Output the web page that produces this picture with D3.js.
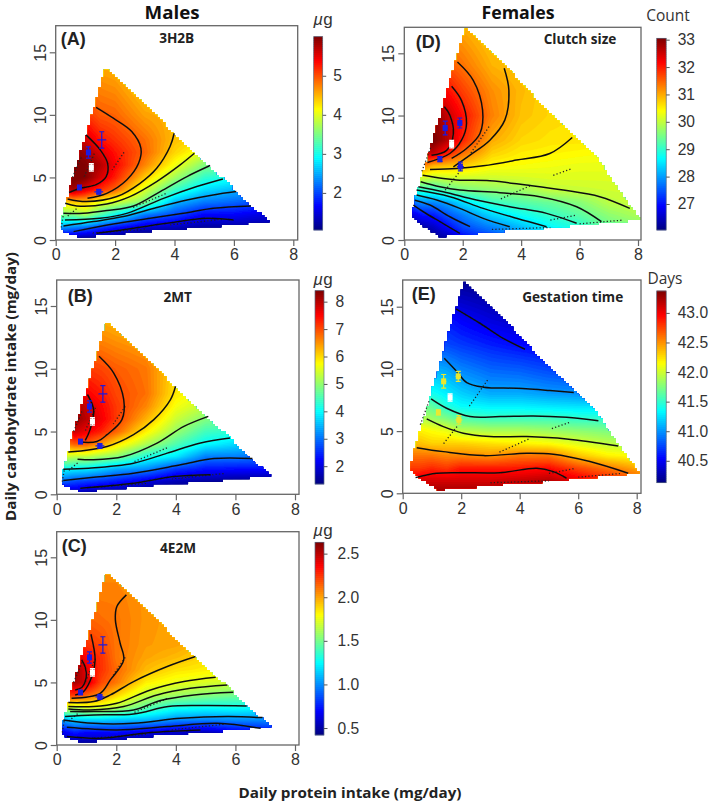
<!DOCTYPE html>
<html><head><meta charset="utf-8">
<script src="https://cdn.jsdelivr.net/npm/d3@7"></script>
<style>html,body{margin:0;background:#fff}svg{display:block}</style></head>
<body><svg id="c" width="709" height="804"></svg>
<script>
// ---------- data ----------
const xTicks=[0,2,4,6,8], yTicks=[0,5,10,15];
const proteinGrid=[0.2,0.6,1,1.5,2,3,4,5,6,7,8.2];
const carbGrid=[0,1,2,3,4,5,6,7,8,10,12,14,17];
const surfaceA=[
[1.1,2.4,3.5,4.3,5.5,6,6.05,5.9,5.6,5.1,4.8,4.5,4.1],
[1.1,2.3,3.5,4.4,5.8,6.1,6.1,6,5.7,5.2,4.8,4.5,4.1],
[1,2.2,3.7,4.4,5.5,6,6,5.85,5.6,5.15,4.85,4.6,4.2],
[1,1.95,3.3,4.05,5.15,5.6,5.75,5.55,5.3,4.95,4.75,4.55,4.2],
[0.9,1.75,2.95,3.9,4.9,5.25,5.4,5.3,5.15,4.9,4.7,4.5,4.2],
[0.8,1.45,2.25,3.5,3.95,4.4,4.75,4.9,4.85,4.6,4.4,4.3,4.1],
[0.9,1.35,2,2.55,3.2,3.7,4.1,4.35,4.45,4.5,4.4,4.3,4.1],
[1,1.2,1.65,2.25,2.75,3.15,3.55,4,4.3,4.4,4.3,4.2,4],
[1.05,1.2,1.65,2.15,2.55,3,3.4,3.8,4.1,4.3,4.2,4.1,4],
[1.05,1.2,1.5,2,2.5,2.9,3.3,3.7,4,4.2,4.2,4.1,4],
[1.05,1.2,1.5,2,2.5,2.9,3.3,3.7,4,4.2,4.2,4.1,4]];
const surfaceB=[
[1.5,2.9,4,5.5,6.5,7.3,7.9,8,7.9,7.2,6.7,6.3,5.9],
[1.7,2.7,3.9,5.3,6.9,7.9,8.3,8.2,7.9,7.2,6.7,6.3,5.9],
[1.5,2.6,3.85,5.3,6.9,7.6,8,7.9,7.55,7.15,6.7,6.3,5.9],
[1.4,2.5,3.65,5.1,6.5,7.3,7.6,7.5,7.35,7.05,6.65,6.3,5.9],
[1.4,2.35,3.4,4.95,5.95,6.85,7.15,7.15,7.05,6.9,6.55,6.2,5.9],
[1.3,2,3.2,4.2,5.2,5.85,6.3,6.6,6.75,6.7,6.4,6.1,5.8],
[1.3,1.7,2.6,3.85,4.55,5.05,5.4,5.7,5.9,6,5.9,5.8,5.7],
[1.3,1.55,2.35,3.1,4,4.45,4.9,5.3,5.6,5.8,5.8,5.7,5.6],
[1.3,1.45,2.3,3.1,3.75,4.3,4.7,5.1,5.4,5.6,5.6,5.6,5.5],
[1.3,1.4,2.3,3,3.5,4.1,4.5,4.9,5.2,5.5,5.5,5.5,5.5],
[1.3,1.4,2.2,2.8,3.4,4,4.4,4.8,5.1,5.4,5.4,5.4,5.4]];
const surfaceC=[
[0.45,0.65,1.05,1.8,2.2,2.4,2.5,2.45,2.35,2.2,2.1,2.05,2],
[0.45,0.75,1.15,1.65,2.25,2.55,2.6,2.5,2.35,2.2,2.1,2.05,2],
[0.45,0.7,1.15,1.75,2.15,2.45,2.4,2.35,2.25,2.15,2.1,2.05,2],
[0.45,0.7,1.15,1.72,2.05,2.2,2.25,2.25,2.2,2.12,2.08,2.05,2],
[0.4,0.72,1.12,1.65,1.9,2.1,2.13,2.1,2.1,2.1,2.08,2.05,2],
[0.45,0.63,1.1,1.45,1.67,1.83,1.95,2,2.02,2.03,2.03,2,2],
[0.5,0.58,1,1.3,1.6,1.76,1.86,1.95,2,2,2,2,2],
[0.5,0.55,0.98,1.27,1.55,1.72,1.83,1.88,1.95,2,2,2,2],
[0.5,0.65,1,1.28,1.5,1.7,1.8,1.85,1.9,1.95,1.95,1.95,1.95],
[0.5,0.7,1,1.25,1.5,1.65,1.75,1.8,1.85,1.9,1.9,1.9,1.9],
[0.5,0.7,1,1.25,1.5,1.65,1.75,1.8,1.85,1.9,1.9,1.9,1.9]];
const surfaceD=[
[26,26.1,26.6,27.6,28.8,30.2,31.3,32.5,33,33,32.5,32,31.5],
[26,26.3,27,27.9,29,30.2,31.4,32.7,33.1,33,32.5,32,31.5],
[26.1,26.5,27.1,27.85,29,30,31,32.6,33.1,33,32.4,31.8,31.3],
[26.2,26.95,27.5,28.05,29.3,30.1,30.9,32,32.65,32.55,32.1,31.6,31.1],
[26.8,27.4,27.8,28.45,29.5,30.1,30.8,31.45,31.95,32.1,31.75,31.4,31],
[27.3,27.8,28.4,29.05,29.65,30.1,30.45,30.75,31,31.3,31.2,30.95,30.7],
[27.8,28.2,28.75,29.25,29.75,30.15,30.4,30.55,30.7,30.85,30.9,30.8,30.6],
[28.4,28.65,29.05,29.4,30,30.2,30.35,30.5,30.6,30.7,30.7,30.7,30.6],
[28.7,28.95,29.3,29.6,30.05,30.2,30.3,30.45,30.6,30.6,30.6,30.6,30.6],
[29.2,29.4,29.65,29.95,30.1,30.2,30.3,30.4,30.5,30.6,30.6,30.6,30.6],
[29.4,29.6,29.9,30.1,30.15,30.2,30.3,30.4,30.5,30.6,30.6,30.6,30.6]];
const surfaceE=[
[43.3,43.1,42.8,42.6,42.35,42.2,42,41.7,41.4,41.15,40.8,40.6,40.3],
[43.3,43.1,42.8,42.6,42.35,42.2,41.95,41.7,41.4,41.15,40.8,40.6,40.3],
[43.3,43.1,42.85,42.6,42.3,42.15,41.85,41.65,41.4,41.1,40.75,40.6,40.3],
[43.3,43.1,42.8,42.55,42.3,42.1,41.75,41.45,41.3,41.05,40.75,40.6,40.2],
[43.3,43.1,42.9,42.55,42.3,41.95,41.6,41.35,41.2,40.95,40.7,40.52,40.2],
[43.3,43.1,42.9,42.5,42.25,41.9,41.55,41.3,41.08,40.85,40.62,40.42,40.15],
[43.35,43.15,42.9,42.6,42.2,41.9,41.55,41.3,41.08,40.82,40.55,40.35,40.15],
[43.3,43.2,42.95,42.6,42.15,41.85,41.55,41.27,41.03,40.75,40.5,40.3,40.15],
[43.1,43.05,42.75,42.35,42.05,41.8,41.5,41.25,41,40.7,40.45,40.3,40.15],
[43,42.9,42.6,42.2,41.95,41.75,41.5,41.25,41,40.7,40.45,40.3,40.15],
[42.9,42.7,42.4,42.15,41.9,41.7,41.5,41.25,41,40.7,40.45,40.3,40.15]];
const outlineMale=[[1.66,13.65],[1.72,13.6],[3.07,10.67],[4.08,8.27],[4.98,6.13],[5.76,4.67],[6.44,2.93],[7.25,1.47],[5.43,1.07],[3.74,0.8],[1.83,0.4],[0.93,0.21],[0.54,0.4],[0.17,0.8],[0.2,1.87],[0.37,2.9],[0.45,4],[0.6,5.07],[0.82,6.93],[1.07,8.53],[1.18,9.73],[1.38,11.2]];
const outlineFemale=[[2.13,17],[3.5,13.9],[4.98,10.16],[6.58,6.68],[7.49,3.48],[8.12,1.6],[6.12,1.2],[4.98,0.94],[3.27,0.67],[2.13,0.4],[1.22,0.27],[0.65,1.07],[0.25,1.87],[0.36,3.2],[0.6,5.08],[0.82,6.68],[0.99,8.3],[1.33,10.7],[1.56,12.83],[1.9,15.5]];
const contoursA=[
[[1.02,8.4],[1.5,7.2],[1.75,6.1],[1.7,5.07],[1.38,4.45],[0.82,4.13],[0.45,3.8]],
[[1.36,10.6],[1.94,9.73],[2.56,8.67],[2.87,7.33],[2.79,6.13],[2.39,4.8],[1.72,3.73],[1.07,3.33]],
[[3.99,8.53],[3.85,7.47],[3.4,5.73],[2.84,4.53],[2.06,3.47],[1.04,3.07],[0.4,3.28]],
[[4.67,6.93],[4.19,6],[3.4,4.67],[2.5,3.47],[1.72,2.88],[0.71,2.72],[0.32,2.93]],
[[5.2,5.95],[4.42,5.07],[3.52,3.87],[2.62,2.72],[1.72,2.35],[0.93,2.13],[0.26,2.13]],
[[5.63,4.88],[4.75,4.27],[3.63,3.33],[2.39,2.13],[1.49,1.73],[0.31,1.6]],
[[6.08,3.87],[5.3,3.6],[4.42,3.2],[3.4,2.6],[2.28,1.87],[1.27,1.47],[0.26,1.12]],
[[6.57,2.72],[5.31,2.53],[4.3,2.13],[3.18,1.73],[1.94,1.28],[0.6,0.67]],
[[5.99,1.6],[5.09,1.73],[3.74,1.33],[2.62,0.93],[1.38,0.53]]];
const contoursB=[
[[1.03,7.95],[1.24,6.75],[1.12,5.15],[0.96,4.3]],
[[1.42,11],[1.91,9.68],[2.25,7.55],[2.19,5.95],[1.69,4.75],[1.35,4.21],[0.79,4.16]],
[[3.99,8.61],[3.82,7.55],[3.26,5.95],[2.58,4.75],[1.69,3.81],[0.39,3.36]],
[[5.09,6.21],[4.27,5.41],[3.37,4.08],[2.25,3.01],[1.24,2.75],[0.7,2.8]],
[[5.82,4.48],[4.83,4.08],[3.71,3.28],[2.58,2.48],[1.07,2.08],[0.22,2]],
[[6.57,2.85],[5.28,2.85],[4.16,2.35],[2.58,1.68],[1.24,1.36],[0.22,1.09]],
[[5.17,1.55],[3.93,1.41],[2.58,0.88],[0.79,0.48]]];
const contoursC=[
[[0.84,6.8],[0.96,6.2],[0.99,5.4],[0.84,4.6],[0.62,4.4]],
[[1.15,8.85],[1.29,6.8],[1.18,5.47],[0.9,4.27],[0.62,4]],
[[2.34,12],[2.02,11.07],[1.97,10],[2.13,8.13],[2.25,6.8],[1.8,5.2],[1.46,4.13],[0.5,3.73]],
[[4.66,7.07],[3.71,6.27],[2.58,5.07],[1.8,4],[1.24,3.47],[0.39,3.39]],
[[5.34,5.41],[4.27,5.07],[3.15,4.4],[2.02,3.33],[1.24,3.07],[0.39,3.07]],
[[5.73,4.8],[4.49,4.53],[3.37,4],[2.25,3.07],[1.12,2.8],[0.39,2.88]],
[[5.93,4.21],[4.61,4],[3.48,3.55],[2.58,2.8],[1.24,2.67],[0.45,2.67]],
[[6.38,3.12],[4.83,3.15],[3.74,3.07],[2.58,2.48],[1.24,2.4],[0.28,2.27]],
[[6.91,2.19],[5.73,2.27],[4.16,2.13],[2.58,1.73],[1.24,1.73],[0.22,2]],
[[6.85,1.33],[5.39,1.73],[3.71,1.47],[2.02,1.2],[0.34,1.41]],
[[4.83,1.2],[3.15,0.99],[1.46,0.53],[0.34,0.67]]];
const contoursD=[
[[1.37,10.7],[1.56,10.03],[1.68,8.56],[1.45,7.2],[0.93,6.8]],
[[1.62,12.35],[1.96,11.2],[2.13,9.36],[1.96,8.02],[1.56,6.95],[0.79,6.23]],
[[1.82,14.3],[2.36,12.83],[2.68,10.43],[2.59,8.56],[2.13,7.35],[1.62,6.55]],
[[3.42,13.8],[3.58,12.03],[3.44,9.63],[2.93,8.02],[2.25,6.82],[1.68,5.88]],
[[5.75,8.24],[4.98,6.95],[3.84,6.42],[2.7,5.96],[1.79,5.75],[0.88,5.67]],
[[7.72,2.54],[6.69,3.48],[5.44,4.01],[4.18,4.41],[2.93,4.76],[1.9,4.81],[1.33,4.95],[0.63,5.21]],
[[6.75,1.47],[5.9,2.67],[4.64,3.48],[3.27,3.8],[1.9,4.01],[1.22,4.28],[0.56,4.68]],
[[5.9,1.34],[4.87,2.14],[3.61,2.67],[2.47,3.21],[1.33,3.88],[0.48,4.28]],
[[4.87,1.07],[3.84,1.74],[2.7,2.54],[1.56,3.48],[0.42,4.01]],
[[3.61,1.07],[2.7,1.74],[1.9,2.54],[1.11,3.21],[0.42,3.61]],
[[2.25,1.07],[1.56,1.87],[0.88,2.81],[0.36,3.2]],
[[1.9,0.53],[1.22,1.47],[0.65,2.27],[0.31,2.8]]];
const contoursE=[
[[1.82,14.83],[2.64,13.67],[3.33,12.6],[4.18,11.58]],
[[1.42,10.86],[1.85,9.79],[2.19,8.9],[2.76,8.53],[3.9,8.44],[5.03,8.26],[5.85,8.1]],
[[0.97,7.59],[1.5,6.84],[2.3,6.17],[3.33,6.17],[4.46,6.22],[5.6,6.11],[6.69,5.84]],
[[0.82,5.98],[1.39,5.36],[2.07,4.83],[2.98,4.56],[4.24,4.56],[5.6,4.37],[7.37,3.81]],
[[0.48,3.67],[1.39,3.35],[2.76,3.03],[4.24,3.22],[5.15,3.14],[6.4,2.55],[7.71,1.61]],
[[0.44,1.26],[1.16,1.61],[1.96,1.66],[3.33,1.66],[4.58,2.01],[5.15,1.74],[5.6,1.21]]];
const dotsMale=[[[2.3,7],[1.9,5.6]],[[1.3,6.9],[0.95,5]],[[3.7,3.7],[2.6,2.6]],[[0.7,2.5],[0.35,1.8]],[[5.6,1.65],[3.8,1.2]],[[3,0.85],[1.2,0.55]],[[0.85,6.6],[0.55,4.9]],[[0.25,1.9],[0.18,0.9]]];
const dotsFemale=[[[2.9,9.1],[2.25,6.9]],[[1.4,4],[1.9,5.5]],[[4.3,4.35],[3.3,3.3]],[[5,1.6],[5.9,2]],[[3,0.85],[5,1]],[[6,1.3],[7.5,1.6]],[[5.1,5.2],[5.7,5.7]],[[0.9,7.4],[0.6,5.5]]];
const markersMale=[[1.55,8,0.15,0.65,0],[1.1,7,0.08,0.45,1],[1.2,5.8,0.07,0.3,2],[0.8,4.2,0.08,0.15,1],[1.45,3.85,0.15,0.15,1]];
const markersFemale=[[1.4,9,0.09,0.55,1],[1.9,9.4,0.09,0.4,1],[1.62,7.7,0.07,0.3,2],[1.22,6.5,0.07,0.2,1],[1.92,5.9,0.12,0.35,1]];
const barTicksA=[2,3,4,5], barTicksB=[2,3,4,5,6,7,8], barTicksC=[0.5,1,1.5,2,2.5], barTicksD=[27,28,29,30,31,32,33], barTicksE=[40.5,41,41.5,42,42.5,43];

// ---------- layout ----------
const panels=[
{id:"A",tag:"(A)",name:"3H2B",surface:surfaceA,outline:outlineMale,contours:contoursA,dots:dotsMale,markers:markersMale,markerColor:"#1a1ae0",
 L:55.7,R:297.7,T:25.7,B:240,x8:293.3,y15:52.3,tagX:60.7,tagY:45,nameX:176.7,nameY:43,
 bar:{x:313.7,w:9,top:36.7,bottom:230,vTop:6,vBottom:1.05,ticks:barTicksA,fmt:"d",pad:7,unit:"µg",ux:323,uy:25}},
{id:"B",tag:"(B)",name:"2MT",surface:surfaceB,outline:outlineMale,contours:contoursB,dots:dotsMale,markers:markersMale,markerColor:"#1a1ae0",
 L:56.7,R:299,T:280,B:494.3,x8:295,y15:306,tagX:67.7,tagY:301.7,nameX:177.7,nameY:301.7,
 bar:{x:315,w:9,top:290.7,bottom:484,vTop:8.4,vBottom:1.35,ticks:barTicksB,fmt:"d",pad:8,unit:"µg",ux:323,uy:285}},
{id:"C",tag:"(C)",name:"4E2M",surface:surfaceC,outline:outlineMale,contours:contoursC,dots:dotsMale,markers:markersMale,markerColor:"#1a1ae0",
 L:56.7,R:299,T:531.7,B:745,x8:295,y15:557.3,tagX:61.7,tagY:551.7,nameX:178,nameY:552.7,
 bar:{x:315,w:9,top:542.3,bottom:735,vTop:2.63,vBottom:0.42,ticks:barTicksC,fmt:".1f",pad:10,unit:"µg",ux:323,uy:536}},
{id:"D",tag:"(D)",name:"Clutch size",surface:surfaceD,outline:outlineFemale,contours:contoursD,dots:dotsFemale,markers:markersFemale,markerColor:"#1a1ae0",
 L:404.3,R:641,T:27.3,B:240,x8:638,y15:53.3,tagX:415.7,tagY:48,nameX:580,nameY:44,
 bar:{x:656.7,w:9.5,top:38.3,bottom:230,vTop:33.05,vBottom:26.05,ticks:barTicksD,fmt:"d",pad:8,unit:"Count",ux:668,uy:21}},
{id:"E",tag:"(E)",name:"Gestation time",surface:surfaceE,outline:outlineFemale,contours:contoursE,dots:dotsFemale,markers:markersFemale,markerColor:"#e8e830",
 L:402.7,R:641,T:280,B:493.3,x8:636.7,y15:306.7,tagX:411.7,tagY:300,nameX:572.7,nameY:301.7,
 bar:{x:656.7,w:9.5,top:291,bottom:482.7,vTop:43.37,vBottom:40.13,ticks:barTicksE,fmt:".1f",pad:8,unit:"Days",ux:665,uy:284}}];

const svg=d3.select("#c");
const defs=svg.append("defs");
defs.append("filter").attr("id","soft").attr("x","-5%").attr("y","-5%").attr("width","110%").attr("height","110%")
  .append("feGaussianBlur").attr("stdDeviation",0.45);
const jet=d3.scaleLinear().domain([0,0.125,0.375,0.625,0.875,1])
  .range(["#00007f","#0000ff","#00ffff","#ffff00","#ff0000","#7f0000"]).clamp(true);
const SANS="'Liberation Sans',Arial,sans-serif", SOFT="'Open Sans','Noto Sans',sans-serif";

function sample(grid,p,c){
  const ip=Math.min(Math.max(d3.bisectRight(proteinGrid,p)-1,0),proteinGrid.length-2);
  const ic=Math.min(Math.max(d3.bisectRight(carbGrid,c)-1,0),carbGrid.length-2);
  const a=Math.min(1,Math.max(0,(p-proteinGrid[ip])/(proteinGrid[ip+1]-proteinGrid[ip])));
  const b=Math.min(1,Math.max(0,(c-carbGrid[ic])/(carbGrid[ic+1]-carbGrid[ic])));
  const row0=grid[ip],row1=grid[ip+1];
  return (1-a)*(1-b)*row0[ic]+a*(1-b)*row1[ic]+(1-a)*b*row0[ic+1]+a*b*row1[ic+1];
}

panels.forEach(P=>{
  const xs=d3.scaleLinear().domain([0,8]).range([P.L,P.x8]);
  const ys=d3.scaleLinear().domain([0,15]).range([P.B,P.y15]);
  const col=v=>jet((v-P.bar.vBottom)/(P.bar.vTop-P.bar.vBottom));
  const g=svg.append("g").attr("class","panel-"+P.id);

  // stepped outline of the fitted region
  const dp=0.09,dc=0.2,rows=[];
  for(let r=0;r*dc<17.2;r++){
    const cm=(r+0.5)*dc;let lo=null,hi=null;
    for(let q=0;q*dp<8.4;q++){
      if(d3.polygonContains(P.outline,[(q+0.5)*dp,cm])){if(lo===null)lo=q;hi=q;}
    }
    if(lo!==null)rows.push({r,lo,hi});
  }
  const right=rows.flatMap(o=>[[xs((o.hi+1)*dp),ys(o.r*dc)],[xs((o.hi+1)*dp),ys((o.r+1)*dc)]]);
  const left=rows.slice().reverse().flatMap(o=>[[xs(o.lo*dp),ys((o.r+1)*dc)],[xs(o.lo*dp),ys(o.r*dc)]]);
  defs.append("clipPath").attr("id","clip"+P.id).append("path")
    .attr("d","M"+right.concat(left).map(p=>p.map(v=>v.toFixed(2)).join(",")).join("L")+"Z");

  const marks=g.append("g").attr("filter","url(#soft)");
  const heat=marks.append("g").attr("clip-path","url(#clip"+P.id+")");
  // filled bands
  const stepP=0.05,stepC=0.1,m=170,n=176,vals=new Array(m*n);
  for(let j=0;j<n;j++)for(let i=0;i<m;i++)vals[j*m+i]=sample(P.surface,i*stepP,j*stepC);
  const nb=90,bandW=(P.bar.vTop-P.bar.vBottom)/nb;
  const th=d3.range(nb+1).map(k=>P.bar.vBottom+k*bandW).concat([-100]).sort((a,b)=>a-b);
  const proj=d3.geoPath(d3.geoTransform({point(x,y){this.stream.point(xs((x-0.5)*stepP),ys((y-0.5)*stepC));}}));
  heat.selectAll("path").data(d3.contours().size([m,n]).thresholds(th)(vals)).join("path")
    .attr("d",proj).attr("fill",d=>col(d.value<0?P.bar.vBottom:d.value+bandW/2));

  // dotted diet rays
  const line=d3.line().x(d=>xs(d[0])).y(d=>ys(d[1]));
  marks.append("g").selectAll("path").data(P.dots).join("path").attr("d",line).attr("fill","none")
    .attr("stroke","#222").attr("stroke-width",1.3).attr("stroke-dasharray","1.2 2.2");
  // contour lines
  const curve=d3.line().x(d=>xs(d[0])).y(d=>ys(d[1])).curve(d3.curveCatmullRom.alpha(0.5));
  marks.append("g").selectAll("path").data(P.contours).join("path").attr("d",curve).attr("fill","none")
    .attr("stroke","#111").attr("stroke-width",1.5);
  // treatment means with error bars
  const mk=marks.append("g").selectAll("g").data(P.markers).join("g");
  const mc=d=>d[4]===2?"#fff":P.markerColor;
  mk.append("path").attr("fill","none").attr("stroke",mc).attr("stroke-width",1.2).attr("d",d=>{
    const x=xs(d[0]),y=ys(d[1]),xl=xs(d[0]-d[2]),xh=xs(d[0]+d[2]),yl=ys(d[1]-d[3]),yh=ys(d[1]+d[3]);
    return `M${xl},${y}H${xh}M${x},${yl}V${yh}M${x-2.5},${yl}h5M${x-2.5},${yh}h5`;});
  mk.filter(d=>d[4]>0).append("rect").attr("x",d=>xs(d[0])-2.5).attr("y",d=>ys(d[1])-3).attr("width",5).attr("height",6).attr("fill",mc);

  // frame and axes
  g.append("rect").attr("x",P.L).attr("y",P.T).attr("width",P.R-P.L).attr("height",P.B-P.T)
    .attr("fill","none").attr("stroke","#666").attr("stroke-width",1.3);
  const ax=g.append("g").attr("transform",`translate(0,${P.B})`)
    .call(d3.axisBottom(xs).tickValues(xTicks).tickSize(6).tickPadding(3));
  const ay=g.append("g").attr("transform",`translate(${P.L},0)`)
    .call(d3.axisLeft(ys).tickValues(yTicks).tickSize(6));
  [ax,ay].forEach(s=>{s.select(".domain").remove();
    s.selectAll("line").attr("stroke","#666").attr("stroke-width",1.2);
    s.selectAll("text").attr("fill","#333").attr("font-family",SANS).attr("font-size",16);});
  ay.selectAll(".tick text").attr("text-anchor","middle").attr("x",0).attr("y",0).attr("dy",null)
    .attr("transform","translate(-10,0) rotate(-90)");

  // labels
  g.append("text").attr("x",P.tagX).attr("y",P.tagY).attr("font-family",SANS).attr("font-weight",700)
    .attr("font-size",18).attr("fill","#222").text(P.tag);
  g.append("text").attr("x",P.nameX).attr("y",P.nameY).attr("text-anchor","middle").attr("font-family",SOFT)
    .attr("font-weight",700).attr("font-size",13.6).attr("fill","#222").text(P.name);

  // colour bar
  const b=P.bar,bs=d3.scaleLinear().domain([b.vBottom,b.vTop]).range([b.bottom,b.top]);
  const cb=g.append("g");
  const levels=d3.range(0,96).map(k=>b.vBottom+(k+0.5)*(b.vTop-b.vBottom)/96);
  const h=(b.bottom-b.top)/96;
  cb.selectAll("rect").data(levels).join("rect").attr("x",b.x).attr("width",b.w)
    .attr("y",d=>bs(d)-h/2-0.3).attr("height",h+0.6).attr("fill",col);
  cb.append("rect").attr("x",b.x).attr("y",b.top).attr("width",b.w).attr("height",b.bottom-b.top)
    .attr("fill","none").attr("stroke","#5a6a80").attr("stroke-width",0.7);
  const ba=cb.append("g").attr("transform",`translate(${b.x+b.w},0)`)
    .call(d3.axisRight(bs).tickValues(b.ticks).tickFormat(d3.format(b.fmt)).tickSize(3.5).tickPadding(b.pad));
  ba.select(".domain").remove();
  ba.selectAll("line").attr("stroke","#555");
  ba.selectAll("text").attr("fill","#333").attr("font-family",SANS).attr("font-size",15.6);
  const u=g.append("text").attr("x",b.ux).attr("y",b.uy).attr("text-anchor","middle").attr("fill","#333");
  if(b.unit==="µg"){u.attr("font-family",SANS).attr("font-size",17);
    u.append("tspan").attr("font-style","italic").text("µ");u.append("tspan").text("g");}
  else u.attr("font-family",SOFT).attr("font-size",15.5).text(b.unit);
});

// overall titles
const titles=[["Males",172,19,17.5,55],["Females",518,19,17.5,73]];
svg.selectAll("text.head").data(titles).join("text").attr("class","head").attr("x",d=>d[1]).attr("y",d=>d[2])
  .attr("text-anchor","middle").attr("font-family",SOFT).attr("font-weight",700).attr("font-size",d=>d[3])
  .attr("textLength",d=>d[4]).attr("lengthAdjust","spacingAndGlyphs")
  .attr("fill","#111").text(d=>d[0]);
svg.append("text").attr("transform","translate(15.5,386.5) rotate(-90)").attr("text-anchor","middle")
  .attr("font-family",SOFT).attr("font-weight",700).attr("font-size",14.5).attr("fill","#222")
  .attr("textLength",269).attr("lengthAdjust","spacingAndGlyphs")
  .text("Daily carbohydrate intake (mg/day)");
svg.append("text").attr("x",350).attr("y",798).attr("text-anchor","middle")
  .attr("font-family",SOFT).attr("font-weight",700).attr("font-size",15).attr("fill","#222")
  .attr("textLength",223).attr("lengthAdjust","spacingAndGlyphs")
  .text("Daily protein intake (mg/day)");
</script></body></html>
